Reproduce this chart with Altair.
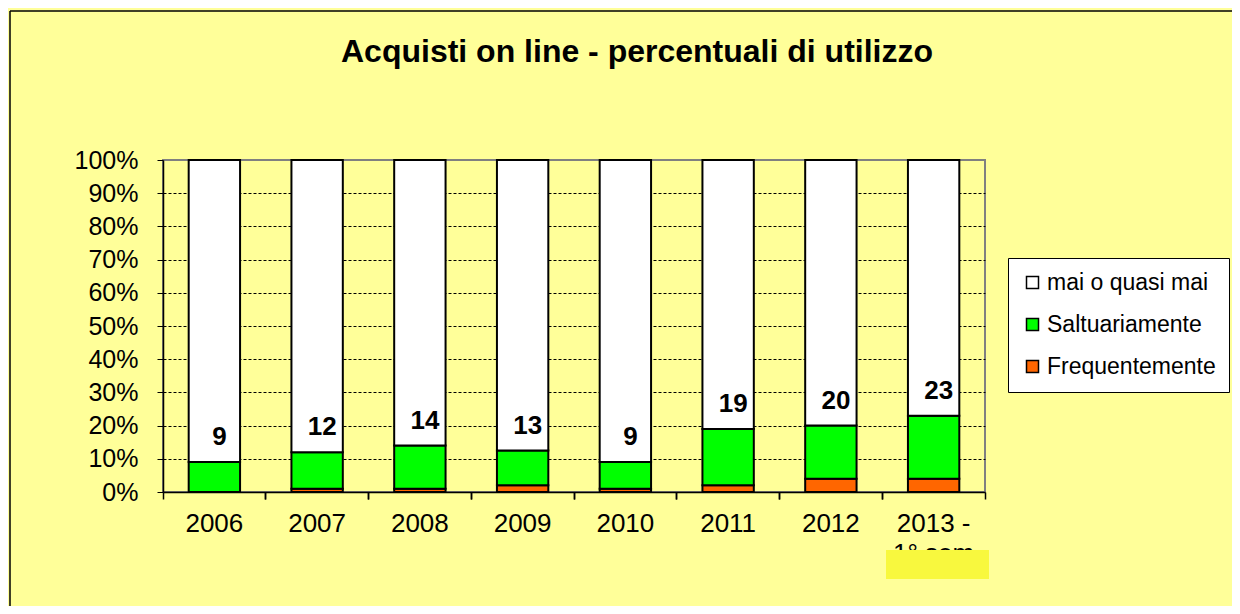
import altair as alt
import pandas as pd

years = ["2006", "2007", "2008", "2009", "2010", "2011", "2012", "2013 - 1° sem"]
frequente = [0, 1, 1, 2, 1, 2, 4, 4]
saltuario = [9, 11, 13, 10.5, 8, 17, 16, 19]
etichette = [9, 12, 14, 13, 9, 19, 20, 23]
series = ["mai o quasi mai", "Saltuariamente", "Frequentemente"]
colors = ["#FFFFFF", "#00FF00", "#FF6600"]

rows = []
for i, y in enumerate(years):
    f = frequente[i]
    s = saltuario[i]
    m = 100 - f - s
    rows.append({"anno": y, "serie": "Frequentemente", "valore": f, "ord": 0})
    rows.append({"anno": y, "serie": "Saltuariamente", "valore": s, "ord": 1})
    rows.append({"anno": y, "serie": "mai o quasi mai", "valore": m, "ord": 2})
df = pd.DataFrame(rows)
lab = pd.DataFrame({"anno": years, "tot": [frequente[i] + saltuario[i] for i in range(len(years))], "lbl": [str(v) for v in etichette]})

FONT = "Liberation Sans"
W, H = 822, 332

xscale = alt.Scale(domain=years, paddingInner=0.5, paddingOuter=0.25)
yaxis = alt.Axis(values=list(range(0, 101, 10)), labelExpr="datum.value + '%'",
                 labelFontSize=25, labelFont=FONT, labelColor="#000", labelPadding=19,
                 labelOverlap=False,
                 tickSize=6, tickColor="#000", domainColor="#000", domainWidth=1.5,
                 grid=True, gridColor="#000", gridDash=[3, 2], gridWidth=1,
                 gridOpacity={"condition": {"test": "datum.value >= 100 || datum.value <= 0", "value": 0}, "value": 1})

bars = alt.Chart(df).mark_bar(stroke="#000000", strokeWidth=2).encode(
    x=alt.X("anno:N", sort=years, scale=xscale, title=None,
            axis=alt.Axis(labelAngle=0, labelFontSize=26, labelFont=FONT, labelColor="#000",
                          ticks=False, tickSize=0, labelPadding=18, domain=True,
                          domainColor="#000", domainWidth=1.5, orient="bottom",
                          labelLineHeight=30, labelOverlap=False,
                          labelExpr="datum.value == '2013 - 1° sem' ? ['2013 -', '1° sem'] : datum.value")),
    y=alt.Y("valore:Q", stack="zero", scale=alt.Scale(domain=[0, 100]), title=None, axis=yaxis),
    color=alt.Color("serie:N", scale=alt.Scale(domain=series, range=colors),
                    legend=alt.Legend(title=None, orient="none", legendX=845, legendY=98,
                                      fillColor="#FFFFFF", strokeColor="#000", padding=13,
                                      labelFontSize=23, labelFont=FONT, labelColor="#000",
                                      labelLimit=400,
                                      symbolType="square", symbolSize=144,
                                      symbolStrokeColor="#000", symbolStrokeWidth=1.5,
                                      symbolOpacity=1, labelOffset=3, rowPadding=18)),
    order=alt.Order("ord:Q"),
)

ticks_a = alt.Chart(df).mark_point(opacity=0).encode(
    x=alt.X("anno:N", sort=years, scale=xscale, title=None,
            axis=alt.Axis(labels=False, domain=False, ticks=True, tickSize=7, tickColor="#000",
                          tickWidth=1.5, bandPosition=-0.5, orient="bottom", grid=False))
)
ticks_b = alt.Chart(df).mark_point(opacity=0).encode(
    x=alt.X("anno:N", sort=years, scale=xscale, title=None,
            axis=alt.Axis(labels=False, domain=False, ticks=True, tickSize=7, tickColor="#000",
                          tickWidth=1.5, bandPosition=1.5, orient="bottom", grid=False))
)

texts = alt.Chart(lab).mark_text(font=FONT, fontSize=26, fontWeight="bold", color="#000",
                                 baseline="alphabetic", dx=5, dy=-17).encode(
    x=alt.X("anno:N", sort=years, scale=xscale, axis=None),
    y=alt.Y("tot:Q", title=None, axis=yaxis),
    text="lbl:N",
)

one = pd.DataFrame({"k": [0]})
frame_left = alt.Chart(one).mark_rule(color="#000", strokeWidth=1.5).encode(
    x=alt.value(-153), y=alt.value(-149), y2=alt.value(H + 114))
frame_top = alt.Chart(one).mark_rule(color="#000", strokeWidth=1.5).encode(
    y=alt.value(-149), x=alt.value(-153), x2=alt.value(W + 247))
patch = alt.Chart(one).mark_rect(color="#F8F83E").encode(
    x=alt.value(723), x2=alt.value(826), y=alt.value(390), y2=alt.value(419))

chart = alt.layer(bars, ticks_a, ticks_b, texts, patch, frame_left, frame_top).resolve_axis(
    x="independent"
).properties(
    width=W, height=H,
    padding={"left": 155, "top": 152, "right": 247, "bottom": 114},
    autosize=alt.AutoSizeParams(type="none"),
    background="#FFFF99",
    title=alt.Title("Acquisti on line - percentuali di utilizzo", fontSize=32, fontWeight="bold",
                    font=FONT, color="#000", anchor="middle", dx=63, dy=181, offset=97,
                    baseline="alphabetic"),
).configure_view(stroke="#808080", strokeWidth=2)

chart.save("out.html", embed_options={"renderer": "svg", "actions": False})
